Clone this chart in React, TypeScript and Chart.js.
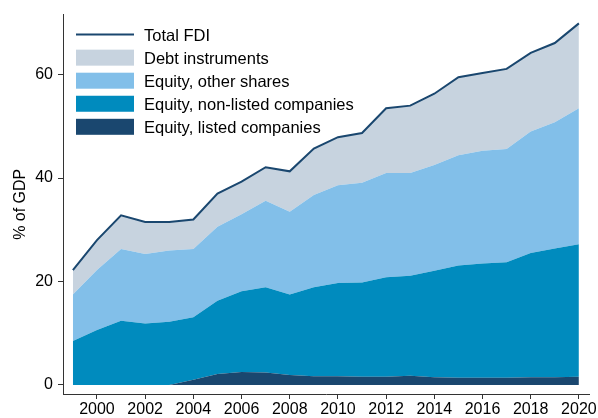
import { useEffect, useRef } from "react";
import { Chart, registerables } from "chart.js";

Chart.register(...registerables);

// ---- Data ----
const years = [1999, 2000, 2001, 2002, 2003, 2004, 2005, 2006, 2007, 2008, 2009, 2010, 2011, 2012, 2013, 2014, 2015, 2016, 2017, 2018, 2019, 2020];
const listedCompanies = [0, 0, 0, 0, 0, 1.0, 2.1, 2.5, 2.4, 1.9, 1.7, 1.7, 1.6, 1.6, 1.8, 1.5, 1.4, 1.4, 1.4, 1.5, 1.5, 1.6];
const nonListedCompanies = [8.5, 10.6, 12.4, 11.9, 12.2, 12.1, 14.2, 15.6, 16.5, 15.6, 17.2, 18.0, 18.2, 19.2, 19.3, 20.6, 21.7, 22.1, 22.3, 24.0, 24.9, 25.6];
const otherShares = [9.0, 11.6, 13.9, 13.4, 13.8, 13.2, 14.3, 14.9, 16.7, 16.0, 17.8, 18.9, 19.3, 20.2, 19.9, 20.4, 21.3, 21.8, 21.9, 23.5, 24.4, 26.3];
const debtInstruments = [4.7, 5.8, 6.5, 6.2, 5.5, 5.7, 6.4, 6.3, 6.5, 7.8, 9.0, 9.3, 9.6, 12.5, 13.0, 13.8, 15.1, 15.0, 15.5, 15.2, 15.3, 16.4];
const totalFDI = [22.2, 28.0, 32.8, 31.5, 31.5, 32.0, 37.0, 39.3, 42.1, 41.3, 45.7, 47.9, 48.7, 53.5, 54.0, 56.3, 59.5, 60.3, 61.1, 64.2, 66.1, 69.9];

const xTickValues = [2000, 2002, 2004, 2006, 2008, 2010, 2012, 2014, 2016, 2018, 2020];
const yTickValues = [0, 20, 40, 60];

const yAxisTitle = "% of GDP";
const seriesNames = {
  total: "Total FDI",
  debt: "Debt instruments",
  other: "Equity, other shares",
  nonListed: "Equity, non-listed companies",
  listed: "Equity, listed companies",
};

const colors = {
  total: "#1a476f",
  debt: "#c7d3df",
  other: "#82bfe9",
  nonListed: "#008bbe",
  listed: "#1a476f",
};

const FONT = '"Liberation Sans", Arial, sans-serif';

const toPoints = (vals: number[]) => years.map((y, i) => ({ x: y, y: vals[i] }));

// Custom vertical legend drawn inside the plot area (top-left)
const insideLegend = {
  id: "insideLegend",
  afterDraw(chart: any) {
    const { ctx, chartArea } = chart;
    const entries = [
      { label: seriesNames.total, color: colors.total, kind: "line" },
      { label: seriesNames.debt, color: colors.debt, kind: "box" },
      { label: seriesNames.other, color: colors.other, kind: "box" },
      { label: seriesNames.nonListed, color: colors.nonListed, kind: "box" },
      { label: seriesNames.listed, color: colors.listed, kind: "box" },
    ];
    const boxX = chartArea.left + 13;
    const boxW = 58;
    const boxH = 16;
    const firstY = chartArea.top + 20;
    const pitch = 23.05;
    const fontSize = 16.5;
    ctx.save();
    ctx.font = `${fontSize}px ${FONT}`;
    ctx.textBaseline = "alphabetic";
    ctx.textAlign = "left";
    entries.forEach((e, i) => {
      const cy = firstY + i * pitch;
      if (e.kind === "line") {
        ctx.strokeStyle = e.color;
        ctx.lineWidth = 2;
        ctx.beginPath();
        ctx.moveTo(boxX, cy);
        ctx.lineTo(boxX + boxW, cy);
        ctx.stroke();
      } else {
        ctx.fillStyle = e.color;
        ctx.fillRect(boxX, cy - boxH / 2, boxW, boxH);
      }
      ctx.fillStyle = "#000";
      ctx.fillText(e.label, boxX + boxW + 10, cy + fontSize * 0.716 / 2);
    });
    ctx.restore();
  },
};

export default function App() {
  const canvasRef = useRef<HTMLCanvasElement | null>(null);

  useEffect(() => {
    if (!canvasRef.current) return;
    Chart.defaults.font.family = FONT;
    Chart.defaults.color = "#000";

    const areaBase = {
      type: "line" as const,
      pointRadius: 0,
      pointHoverRadius: 0,
      borderWidth: 0,
      tension: 0,
      stack: "components",
    };

    const chart = new Chart(canvasRef.current, {
      type: "line",
      data: {
        datasets: [
          { ...areaBase, label: seriesNames.listed, data: toPoints(listedCompanies), backgroundColor: colors.listed, borderColor: colors.listed, fill: "origin" },
          { ...areaBase, label: seriesNames.nonListed, data: toPoints(nonListedCompanies), backgroundColor: colors.nonListed, borderColor: colors.nonListed, fill: "-1" },
          { ...areaBase, label: seriesNames.other, data: toPoints(otherShares), backgroundColor: colors.other, borderColor: colors.other, fill: "-1" },
          { ...areaBase, label: seriesNames.debt, data: toPoints(debtInstruments), backgroundColor: colors.debt, borderColor: colors.debt, fill: "-1" },
          {
            type: "line",
            label: seriesNames.total,
            data: toPoints(totalFDI),
            borderColor: colors.total,
            backgroundColor: colors.total,
            borderWidth: 2,
            pointRadius: 0,
            pointHoverRadius: 0,
            fill: false,
            tension: 0,
            stack: "total",
            order: -1,
          },
        ],
      },
      options: {
        animation: false,
        responsive: true,
        maintainAspectRatio: false,
        events: [],
        layout: { padding: { left: 0, right: 9, top: 12.7, bottom: 0 } },
        plugins: {
          legend: { display: false },
          tooltip: { enabled: false },
          title: { display: false },
        },
        scales: {
          x: {
            type: "linear",
            min: 1998.59,
            max: 2020.42,
            afterBuildTicks: (scale: any) => {
              scale.ticks = xTickValues.map((v) => ({ value: v }));
            },
            afterFit: (scale: any) => {
              scale.height = 24;
            },
            ticks: {
              callback: (v: any) => String(v),
              font: { size: 16 },
              color: "#000",
              padding: 1,
              maxRotation: 0,
              autoSkip: false,
            },
            grid: {
              display: true,
              drawOnChartArea: false,
              drawTicks: true,
              tickLength: 5,
              color: "#333",
            },
            border: { display: true, color: "#333", width: 1 },
          },
          y: {
            type: "linear",
            stacked: true,
            min: -1.75,
            max: 71.6,
            afterBuildTicks: (scale: any) => {
              scale.ticks = yTickValues.map((v) => ({ value: v }));
            },
            afterFit: (scale: any) => {
              scale.width = 63;
            },
            ticks: {
              callback: (v: any) => String(v),
              font: { size: 16 },
              color: "#000",
              padding: 5,
            },
            grid: {
              display: true,
              drawOnChartArea: false,
              drawTicks: true,
              tickLength: 5,
              color: "#333",
            },
            border: { display: true, color: "#333", width: 1 },
            title: {
              display: true,
              text: yAxisTitle,
              font: { size: 16 },
              color: "#000",
              padding: { top: 11, bottom: 0 },
            },
          },
        },
      },
      plugins: [insideLegend],
    } as any);

    return () => chart.destroy();
  }, []);

  return (
    <div style={{ position: "fixed", left: 0, top: 0, width: 598, height: 418, background: "#fff" }}>
      <canvas ref={canvasRef} />
    </div>
  );
}
